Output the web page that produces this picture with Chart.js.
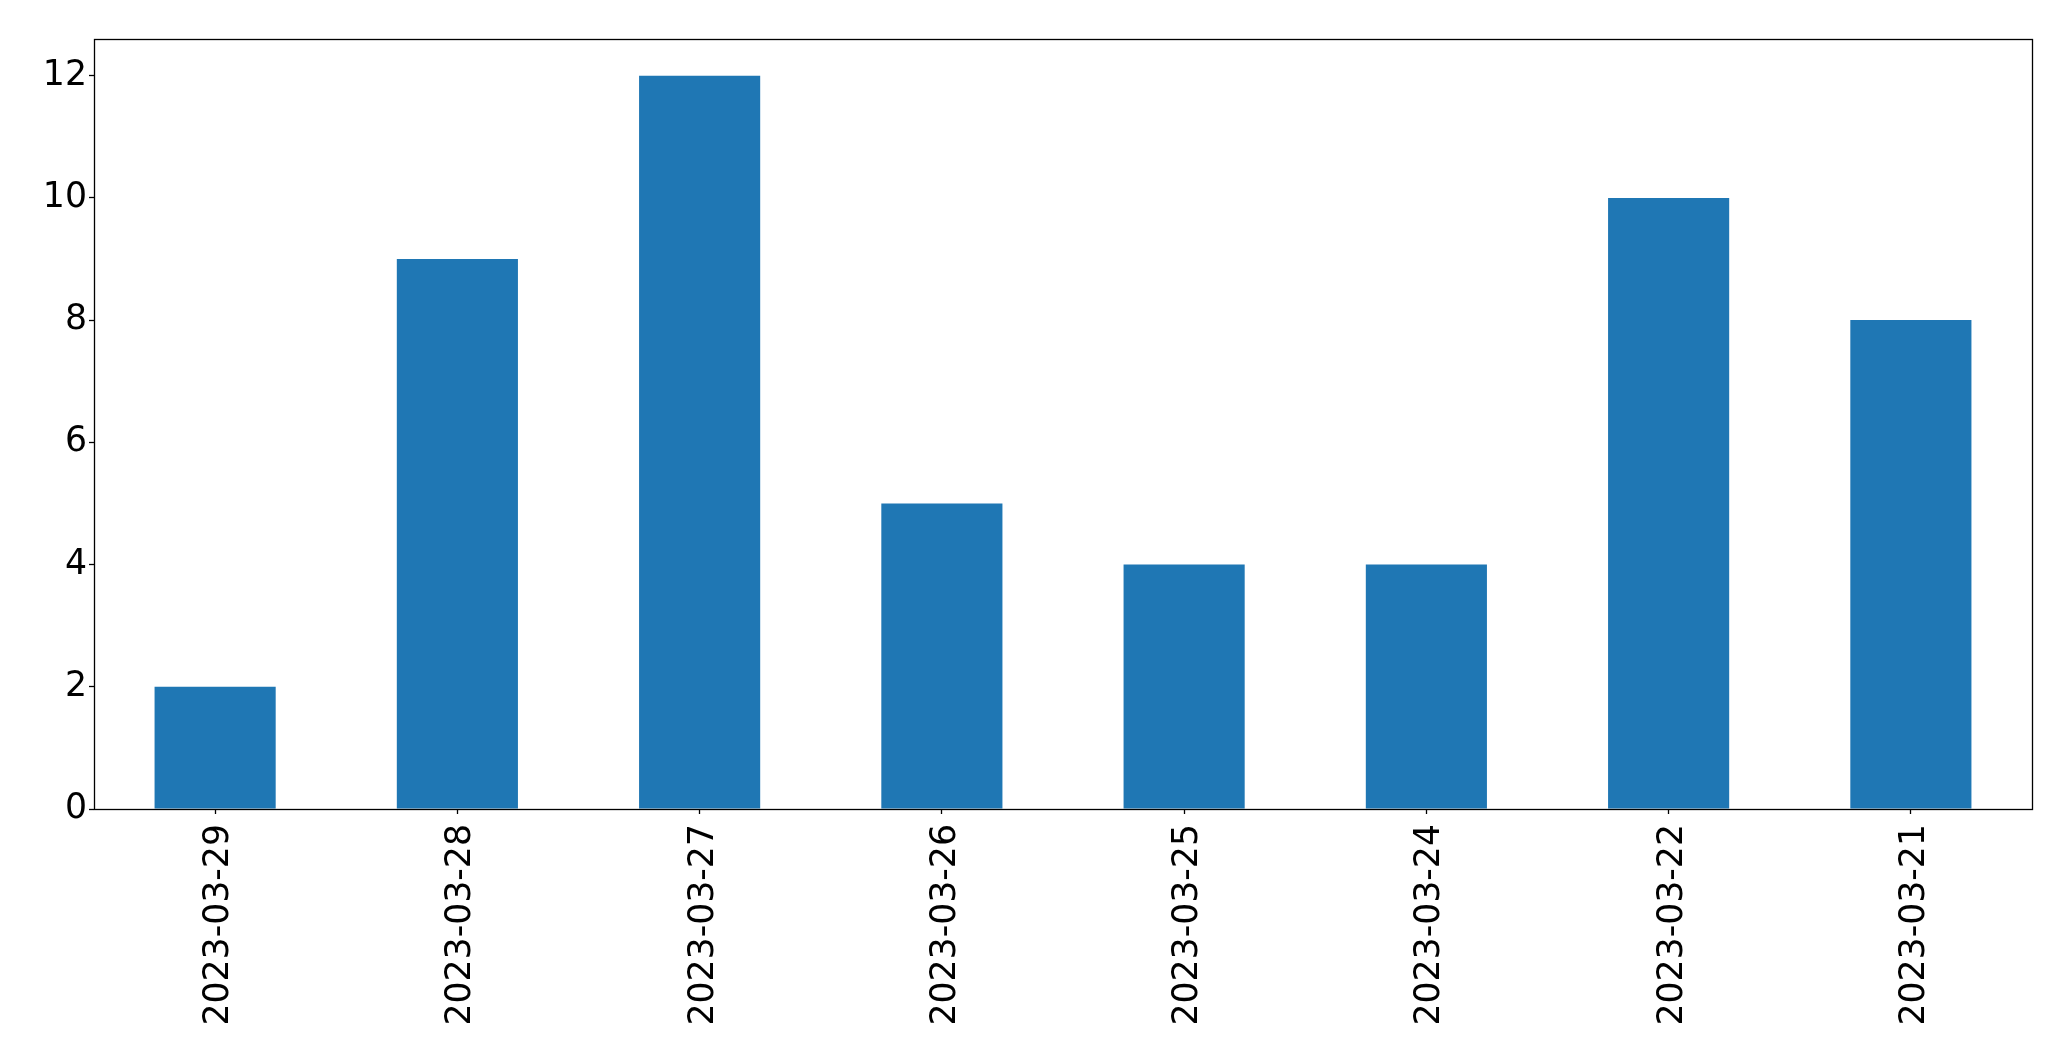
<!DOCTYPE html>
<html>
<head>
<meta charset="utf-8">
<script src="https://cdn.jsdelivr.net/npm/chart.js@4.4.1/dist/chart.umd.min.js"></script>
<style>
  html, body { margin: 0; padding: 0; background: #fff; }
  #wrap { width: 2071px; height: 1061px; }
</style>
</head>
<body>
<div id="wrap"><canvas id="c" width="2071" height="1061"></canvas></div>
<script>
// === Data ===
const dates = ["2023-03-29", "2023-03-28", "2023-03-27", "2023-03-26", "2023-03-25", "2023-03-24", "2023-03-22", "2023-03-21"];
const counts = [2, 9, 12, 5, 4, 4, 10, 8];
const yTicks = [0, 2, 4, 6, 8, 10, 12];

// === Frame around the plot area ===
const frame = {
  id: 'frame',
  afterDraw(chart) {
    const a = chart.chartArea;
    const ctx = chart.ctx;
    const l = Math.round(a.left) + 0.5, t = Math.round(a.top) + 0.5;
    const r = Math.round(a.right) + 0.5, b = Math.round(a.bottom) + 0.5;
    ctx.save();
    ctx.strokeStyle = '#000';
    ctx.lineWidth = 1.3;
    ctx.strokeRect(l, t, r - l, b - t);
    ctx.restore();
  }
};

const font = { family: "'DejaVu Sans', sans-serif", size: 34.7 };

new Chart(document.getElementById('c'), {
  type: 'bar',
  data: {
    labels: dates,
    datasets: [{
      data: counts,
      backgroundColor: '#1f77b4',
      borderWidth: 0,
      categoryPercentage: 1,
      barPercentage: 0.5
    }]
  },
  options: {
    responsive: false,
    animation: false,
    layout: { padding: { top: 39, right: 39, left: 0, bottom: 0 } },
    plugins: { legend: { display: false }, tooltip: { enabled: false } },
    scales: {
      x: {
        offset: true,
        grid: { display: true, offset: false, drawOnChartArea: false, tickLength: 5, tickColor: '#000', tickWidth: 1.3 },
        border: { display: false },
        ticks: { color: '#000', font: font, minRotation: 90, maxRotation: 90, padding: 10, labelOffset: 4, autoSkip: false },
        afterFit(scale) { scale.height = 252; }
      },
      y: {
        min: 0,
        max: 12.6,
        afterBuildTicks(scale) { scale.ticks = yTicks.map(v => ({ value: v })); },
        grid: { display: true, drawOnChartArea: false, tickLength: 5, tickColor: '#000', tickWidth: 1.3 },
        border: { display: false },
        ticks: { color: '#000', font: font, padding: 2 },
        afterFit(scale) { scale.width = 94; }
      }
    }
  },
  plugins: [frame]
});
</script>
</body>
</html>
